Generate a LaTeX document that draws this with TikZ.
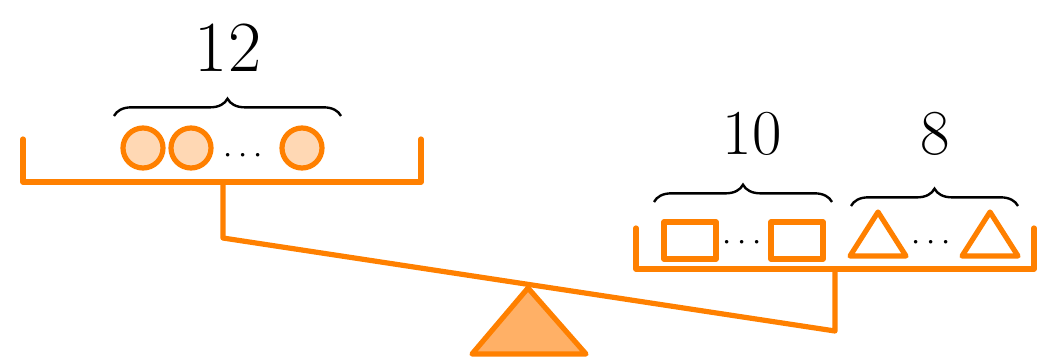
\documentclass[tikz,border=0pt]{standalone}
\usetikzlibrary{decorations.pathreplacing}
\definecolor{ora}{RGB}{255,128,0}
\definecolor{peach}{RGB}{255,216,180}
\definecolor{tri}{RGB}{255,176,102}
\begin{document}
\begin{tikzpicture}[x=0.75pt,y=-0.75pt,
  oline/.style={draw=ora,line width=3.9pt,line cap=round,line join=round},
  brc/.style={draw=black,line width=1.8pt,decorate,decoration={brace,amplitude=13pt}},
  num/.style={inner sep=0pt},
  dots/.style={inner sep=0pt,font=\fontsize{32}{36}\selectfont}]
\useasboundingbox (0,0) rectangle (1045,358);
% beam and fulcrum
\coordinate (stemL) at (223,183);
\coordinate (beamL) at (223,238);
\coordinate (beamR) at (835,331);
\coordinate (stemR) at (835,269);
\draw[oline] (stemL) -- (beamL) -- (beamR) -- (stemR);
\draw[oline,fill=tri] (528,288) -- (586,354) -- (472,354) -- cycle;
% left pan
\draw[oline] (23,139) -- (23,182) -- (421,182) -- (421,139);
% right pan
\draw[oline] (636,228) -- (636,269) -- (1034,269) -- (1034,228);
% circles
\draw[oline,fill=peach] (143,148) circle (20);
\draw[oline,fill=peach] (191,148) circle (20);
\draw[oline,fill=peach] (302,148) circle (20);
\node[dots] (d1) at (243,156) {$\cdots$};
% rectangles
\draw[oline] (664,222) rectangle (716,259);
\draw[oline] (771,222) rectangle (823,259);
\node[dots] (d2) at (742,243) {$\cdots$};
% triangles
\draw[oline] (878,212) -- (906,256) -- (850,256) -- cycle;
\draw[oline] (990,212) -- (1018,256) -- (962,256) -- cycle;
\node[dots] (d3) at (931,243) {$\cdots$};
% braces
\draw[brc] (114,116) -- (341,116);
\draw[brc] (654,202) -- (832,202);
\draw[brc] (851,206) -- (1018,206);
% labels
\node[num,font=\fontsize{54}{60}\selectfont] (n12) at (228,48) {12};
\node[num,font=\fontsize{48}{54}\selectfont] (n10) at (752,134) {10};
\node[num,font=\fontsize{48}{54}\selectfont] (n8) at (935,134) {8};
\end{tikzpicture}
\end{document}
